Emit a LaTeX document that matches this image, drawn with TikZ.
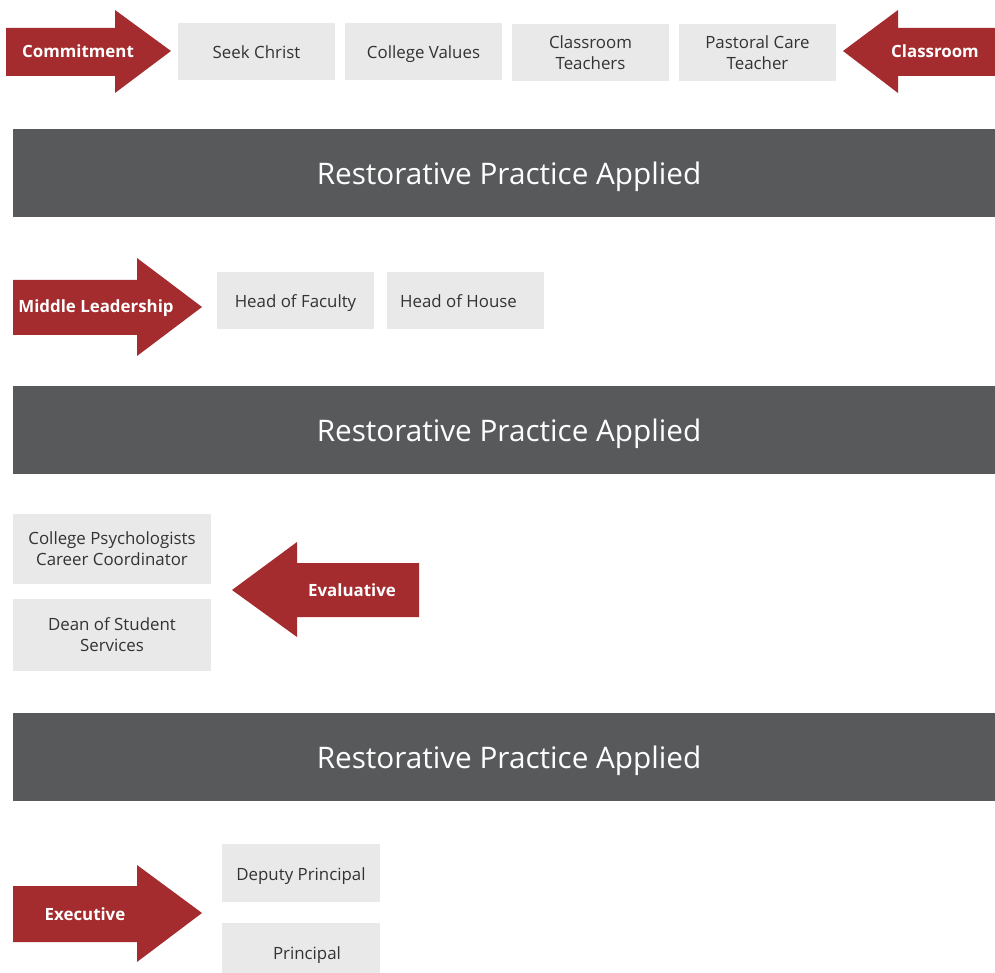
\documentclass[tikz,border=0pt]{standalone}
\usepackage{fontspec}
\setmainfont{Open Sans}
\usepackage{xcolor}
\usetikzlibrary{arrows.meta}

\definecolor{rpred}{HTML}{A42B2E}
\definecolor{rpbox}{HTML}{E9E9E9}
\definecolor{rpbar}{HTML}{58595B}
\definecolor{rptext}{HTML}{333333}

\tikzset{
    rolebox/.style = {fill = rpbox, text = rptext, inner sep = 0pt, align = center,
        minimum width = 3.14cm, minimum height = 1.14cm,
        font = \fontsize{9.6}{11.9}\selectfont},
    oneline/.style = {text height = 0.85em, text depth = 0pt},
    rpbar/.style = {fill = rpbar, text = white, inner sep = 0pt,
        minimum width = 19.84cm, minimum height = 1.76cm,
        text height = 13.6pt, text depth = 0pt,
        font = \fontsize{16.9}{19}\selectfont},
    arrowtext/.style = {text = white, inner sep = 0pt,
        font = \bfseries\fontsize{9.6}{11.9}\selectfont},
}

\begin{document}
\begin{tikzpicture}[x = 0.02cm, y = -0.02cm]
        \useasboundingbox (0,0) rectangle (995,973);

        % first row
        \fill[rpred] (6,28) -- (115,28) -- (115,10) -- (171,51) -- (115,93) -- (115,76) -- (6,76) -- cycle;
        \node[arrowtext] (commitment) at (78,51) {Commitment};
        \node[rolebox, oneline] (seek) at (256.5,51.5) {Seek Christ};
        \node[rolebox, oneline] (values) at (423.5,51.5) {College Values};
        \node[rolebox] (teachers) at (590.5,52.5) {Classroom\\Teachers};
        \node[rolebox] (pastoral) at (757.5,52.5) {Pastoral Care\\Teacher};
        \fill[rpred] (995,28) -- (898,28) -- (898,10) -- (843,51) -- (898,93) -- (898,76) -- (995,76) -- cycle;
        \node[arrowtext] (classroom) at (935,51) {Classroom};

        \node[rpbar] (applied1) at (509,173) {Restorative Practice Applied};

        % middle leadership
        \fill[rpred] (13,280) -- (137,280) -- (137,258) -- (202,307) -- (137,356) -- (137,335) -- (13,335) -- cycle;
        \node[arrowtext] (middle) at (96,308) {Middle Leadership};
        \node[rolebox, oneline] (faculty) at (295.5,300.5) {Head of Faculty};
        \node[rolebox, oneline] (house) at (465.5,300.5) {Head of House\hspace{0.28cm}};

        \node[rpbar] (applied2) at (509,430) {Restorative Practice Applied};

        % evaluative
        \node[rolebox, minimum width = 3.96cm, minimum height = 1.42cm] (psych) at (112,549)
            {College Psychologists\\Career Coordinator};
        \node[rolebox, minimum width = 3.96cm, minimum height = 1.44cm] (dean) at (112,635)
            {Dean of Student\\Services};
        \fill[rpred] (419,563) -- (297,563) -- (297,542) -- (232,590) -- (297,637) -- (297,617) -- (419,617) -- cycle;
        \node[arrowtext] (evaluative) at (352,590) {Evaluative};

        \node[rpbar] (applied3) at (509,757) {Restorative Practice Applied};

        % executive
        \fill[rpred] (13,886) -- (137,886) -- (137,865) -- (202,913) -- (137,962) -- (137,942) -- (13,942) -- cycle;
        \node[arrowtext] (executive) at (85,914) {Executive};
        \node[rolebox, oneline, minimum width = 3.16cm, minimum height = 1.16cm] (deputy) at (301,873) {Deputy Principal};
        \node[rolebox, oneline, minimum width = 3.16cm, minimum height = 1.18cm] (principal) at (301,952.5) {\hspace{0.24cm}Principal};
\end{tikzpicture}
\end{document}
